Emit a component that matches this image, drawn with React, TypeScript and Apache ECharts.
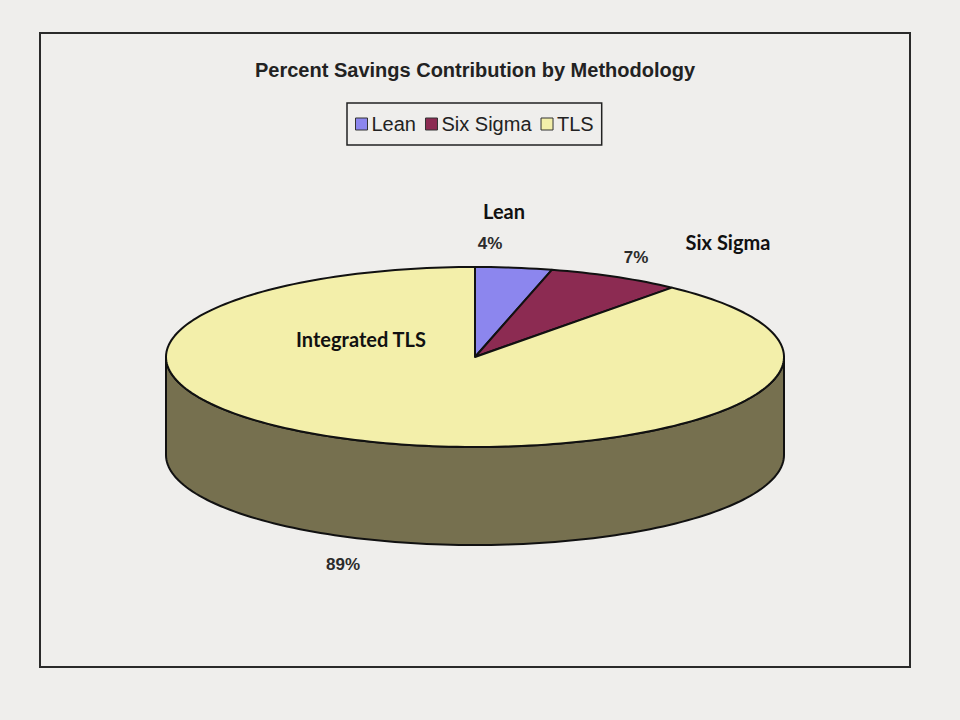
import React, { useEffect, useRef } from "react";
import * as echarts from "echarts";

const categories = ["Lean", "Six Sigma", "TLS"];
const values = [4, 7, 89];
const colors = ["#8c86ee", "#8c2b52", "#f3efaa"];
const sideColor = "#76704f";
const percentLabelPos = [
  [490, 243],
  [636, 257],
  [343, 564],
];
const noteTexts = ["Lean", "Six Sigma", "Integrated TLS"];
const notePos = [
  [504, 211],
  [728, 242],
  [361, 339],
];

// pie layout (pixels)
const CX = 475;
const CY = 357;
const RX = 309;
const RY = 90;
const DEPTH = 98;

function pt(theta: number, dy = 0): number[] {
  const a = (theta * Math.PI) / 180;
  return [CX + RX * Math.sin(a), CY - RY * Math.cos(a) + dy];
}

function arcPts(a0: number, a1: number, dy = 0): number[][] {
  const pts: number[][] = [];
  const n = Math.max(2, Math.ceil(Math.abs(a1 - a0) / 1.5));
  for (let i = 0; i <= n; i++) pts.push(pt(a0 + ((a1 - a0) * i) / n, dy));
  return pts;
}

export default function App() {
  const ref = useRef<HTMLDivElement>(null);
  useEffect(() => {
    if (!ref.current) return;
    const chart = echarts.init(ref.current, undefined, { renderer: "svg" });
    const total = values.reduce((s, v) => s + v, 0);
    let acc = 0;
    const starts = values.map((v) => {
      const s = acc;
      acc += v;
      return s;
    });

    const series = categories.map((name, i) => ({
      type: "custom",
      name,
      coordinateSystem: "none",
      silent: true,
      itemStyle: { color: colors[i], borderColor: "#222", borderWidth: 1 },
      data: [[starts[i], values[i]]],
      renderItem: (params: any, api: any) => {
        const start = api.value(0);
        const val = api.value(1);
        const a0 = (start / total) * 360;
        const a1 = ((start + val) / total) * 360;
        const children: any[] = [];
        // visible front side (angles 90..270)
        const f0 = Math.max(a0, 90);
        const f1 = Math.min(a1, 270);
        if (f1 > f0) {
          const top = arcPts(f0, f1, 0);
          const bot = arcPts(f1, f0, DEPTH);
          children.push({
            type: "polygon",
            shape: { points: top.concat(bot) },
            style: { fill: sideColor, stroke: "#111", lineWidth: 2, lineJoin: "round" },
          });
        }
        const topPts = [[CX, CY]].concat(arcPts(a0, a1, 0));
        children.push({
          type: "polygon",
          shape: { points: topPts },
          style: { fill: colors[i], stroke: "#111", lineWidth: 2, lineJoin: "round" },
        });
        return { type: "group", children };
      },
    }));

    const graphics: any[] = [
      {
        type: "rect",
        shape: { x: 40, y: 33, width: 870, height: 634 },
        style: { fill: "none", stroke: "#2a2a2a", lineWidth: 2 },
        silent: true,
      },
    ];
    values.forEach((v, i) => {
      graphics.push({
        type: "text",
        x: percentLabelPos[i][0],
        y: percentLabelPos[i][1],
        z: 10,
        style: {
          text: `${v}%`,
          fill: "#2b2b2b",
          font: "bold 17px 'Liberation Sans', Arial, sans-serif",
          align: "center",
          verticalAlign: "middle",
        },
      });
    });
    noteTexts.forEach((t, i) => {
      graphics.push({
        type: "text",
        x: notePos[i][0],
        y: notePos[i][1],
        z: 10,
        style: {
          text: t,
          fill: "#111",
          font: "bold 20px Lato, 'Open Sans', sans-serif",
          align: "center",
          verticalAlign: "middle",
        },
      });
    });

    chart.setOption({
      animation: false,
      backgroundColor: "#efeeec",
      title: {
        text: "Percent Savings Contribution by Methodology",
        left: 250,
        top: 55,
        textStyle: {
          fontFamily: "'Liberation Sans', Arial, sans-serif",
          fontWeight: "bold",
          fontSize: 20,
          color: "#222",
        },
      },
      legend: {
        data: categories,
        left: 347,
        top: 103,
        orient: "horizontal",
        padding: [11, 8],
        itemGap: 9,
        itemWidth: 12,
        itemHeight: 12,
        icon: "rect",
        borderColor: "#222",
        borderWidth: 1.5,
        itemStyle: { borderColor: "#333", borderWidth: 1 },
        textStyle: {
          fontFamily: "'Liberation Sans', Arial, sans-serif",
          fontSize: 20,
          color: "#222",
          padding: [0, 0, 0, -1],
        },
      },
      graphic: graphics,
      series,
    });
    return () => chart.dispose();
  }, []);
  return (
    <div
      ref={ref}
      style={{ position: "fixed", left: 0, top: 0, width: 960, height: 720 }}
    />
  );
}
